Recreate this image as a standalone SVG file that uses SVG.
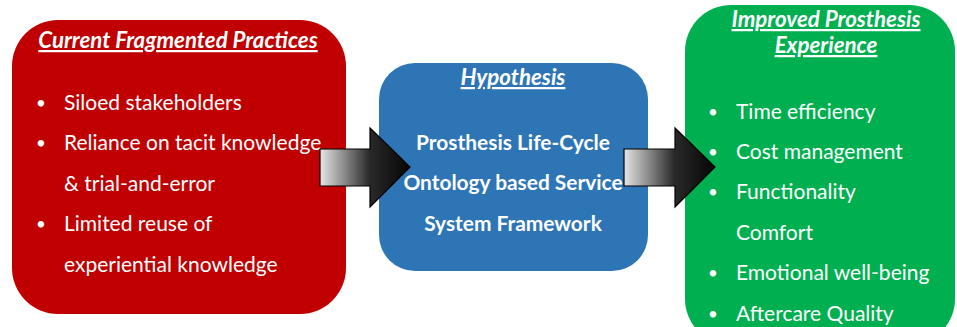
<svg xmlns="http://www.w3.org/2000/svg" width="957" height="327" viewBox="0 0 957 327">
  <defs>
    <linearGradient id="arrowFill" x1="0" y1="0" x2="1" y2="0">
      <stop offset="0" stop-color="#e6e6e6"/>
      <stop offset="0.55" stop-color="#2a2a2a"/>
      <stop offset="1" stop-color="#050505"/>
    </linearGradient>
    <style>
      .txt { font-family: Lato, "Open Sans", sans-serif; fill: #ffffff; font-size: 21px; }
      .dot { font-size: 17px; }
      .title { font-size: 22.3px; font-weight: bold; font-style: italic; text-decoration: underline; text-anchor: middle; }
      .bold { font-size: 20.9px; font-weight: bold; text-anchor: middle; }
      .arrow { fill: url(#arrowFill); stroke: #000000; stroke-width: 1.2; }
    </style>
  </defs>
  <rect width="957" height="327" fill="#ffffff"/>

  <!-- left box: current practices -->
  <g id="current-practices">
    <rect x="12" y="20" width="334" height="294" rx="46" ry="46" fill="#C00000"/>
    <text class="txt title" x="178" y="48">Current Fragmented Practices</text>
    <g class="txt">
      <text class="dot" x="36" y="109">•</text><text x="64" y="110">Siloed stakeholders</text>
      <text class="dot" x="36" y="149">•</text><text x="64" y="150">Reliance on tacit knowledge</text>
      <text x="64" y="191">&amp; trial-and-error</text>
      <text class="dot" x="36" y="230">•</text><text x="64" y="231">Limited reuse of</text>
      <text x="64" y="272">experiential knowledge</text>
    </g>
  </g>

  <!-- middle box: hypothesis -->
  <g id="hypothesis">
    <rect x="379" y="63" width="269" height="208" rx="36" ry="36" fill="#2E75B6"/>
    <text class="txt title" x="513" y="85">Hypothesis</text>
    <text class="txt bold" x="513" y="150">Prosthesis Life-Cycle</text>
    <text class="txt bold" x="513" y="190">Ontology based Service</text>
    <text class="txt bold" x="513" y="231">System Framework</text>
  </g>

  <!-- right box: improved experience -->
  <g id="improved-experience">
    <rect x="685" y="5" width="270" height="340" rx="46" ry="46" fill="#00B050"/>
    <text class="txt title" x="826" y="27">Improved Prosthesis</text>
    <text class="txt title" x="826" y="53">Experience</text>
    <g class="txt">
      <text class="dot" x="708" y="118">•</text><text x="736" y="119">Time efficiency</text>
      <text class="dot" x="708" y="158">•</text><text x="736" y="159">Cost management</text>
      <text class="dot" x="708" y="198">•</text><text x="736" y="199">Functionality</text>
      <text x="736" y="240">Comfort</text>
      <text class="dot" x="708" y="279">•</text><text x="736" y="280">Emotional well-being</text>
      <text class="dot" x="708" y="320">•</text><text x="736" y="321">Aftercare Quality</text>
    </g>
  </g>

  <!-- block arrows between boxes -->
  <g id="connectors">
    <path class="arrow" d="M320,149 H370 V128 L410,167 L370,207 V186 H320 Z"/>
    <path class="arrow" d="M624,149 H675 V128 L715,167 L675,207 V186 H624 Z"/>
  </g>
</svg>
